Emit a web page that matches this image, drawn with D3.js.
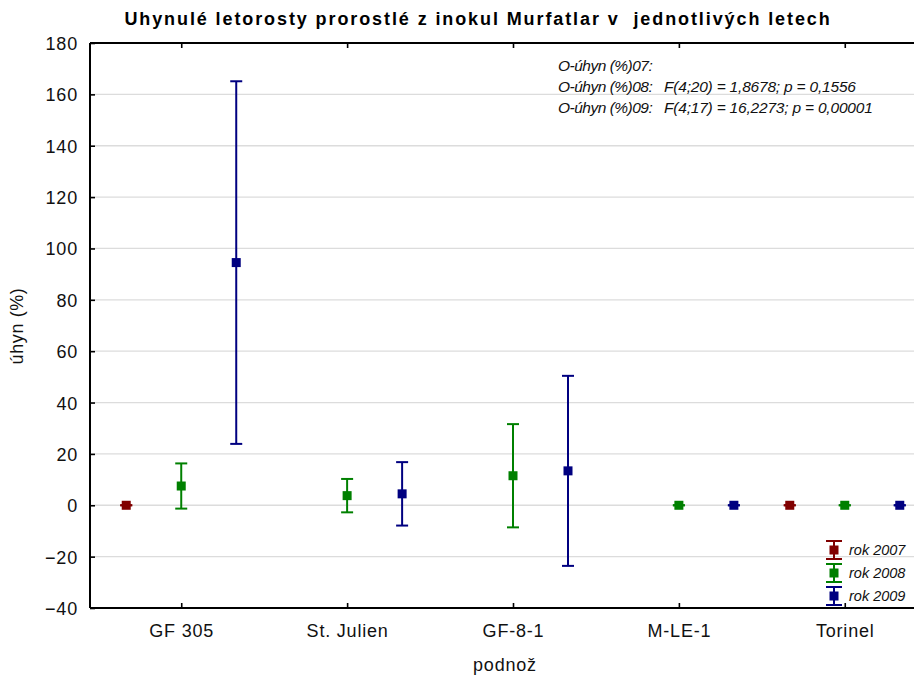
<!DOCTYPE html>
<html>
<head>
<meta charset="utf-8">
<script src="https://cdn.jsdelivr.net/npm/d3@7/dist/d3.min.js"></script>
<style>
  html, body { margin: 0; padding: 0; background: #fff; }
  svg { display: block; font-family: "Liberation Sans", Arial, sans-serif; }
</style>
</head>
<body>
<svg id="chart" width="914" height="682"></svg>
<script>
// Rootstocks on the x axis
const categories = ["GF 305", "St. Julien", "GF-8-1", "M-LE-1", "Torinel"];
const seriesNames = ["rok 2007", "rok 2008", "rok 2009"];
const seriesColors = ["#800000", "#008000", "#000080"];

// Means and half-widths of the confidence intervals (null = no data)
const mean2007 = [0, null, null, null, 0];
const err2007  = [0, null, null, null, 0];
const mean2008 = [7.5, 3.75, 11.5, 0, 0];
const err2008  = [8.8, 6.5, 20.1, 0, 0];
const mean2009 = [94.5, 4.45, 13.4, 0, 0];
const err2009  = [70.6, 12.35, 37.0, 0, 0];

const yTicks = [-40, -20, 0, 20, 40, 60, 80, 100, 120, 140, 160, 180];

const statLines = [
  ["O-úhyn (%)07:", ""],
  ["O-úhyn (%)08:", "F(4;20) = 1,8678; p = 0,1556"],
  ["O-úhyn (%)09:", "F(4;17) = 16,2273; p = 0,00001"]
];

const series = [
  { name: seriesNames[0], color: seriesColors[0], mean: mean2007, err: err2007 },
  { name: seriesNames[1], color: seriesColors[1], mean: mean2008, err: err2008 },
  { name: seriesNames[2], color: seriesColors[2], mean: mean2009, err: err2009 }
];

const svg = d3.select("#chart");
const plotLeft = 90, plotRight = 936, plotTop = 43, plotBottom = 608;

const x = d3.scalePoint().domain(categories).range([plotLeft, plotRight]).padding(0.55);
const xSub = d3.scalePoint().domain(seriesNames).range([-55, 55]);
const y = d3.scaleLinear().domain([-40, 180]).range([plotBottom, plotTop]);

// Horizontal grid
svg.append("g")
  .selectAll("line")
  .data(yTicks.filter(t => t !== -40 && t !== 180))
  .join("line")
  .attr("x1", plotLeft).attr("x2", plotRight)
  .attr("y1", d => y(d)).attr("y2", d => y(d))
  .attr("stroke", "#dcdcdc").attr("stroke-width", 1.3);

// Axes
const axisFont = g => g.selectAll("text")
  .attr("font-size", 18).attr("fill", "#111")
  .attr("font-family", "'Liberation Sans', Arial, sans-serif")
  .style("letter-spacing", "0.8px");

const yAxis = svg.append("g")
  .attr("transform", `translate(${plotLeft},0)`)
  .call(d3.axisRight(y).tickValues(yTicks).tickSize(5).tickFormat(d3.format("d")));
yAxis.selectAll("text").attr("x", -12).attr("text-anchor", "end").attr("dy", "0.36em");
yAxis.call(axisFont);

const xAxis = svg.append("g")
  .attr("transform", `translate(0,${plotBottom})`)
  .call(d3.axisTop(x).tickSize(5));
xAxis.selectAll("text").attr("y", 29).attr("dy", 0);
xAxis.call(axisFont);

const xTop = svg.append("g")
  .attr("transform", `translate(0,${plotTop})`)
  .call(d3.axisBottom(x).tickSize(5).tickFormat(""));

[yAxis, xAxis, xTop].forEach(g => {
  g.select(".domain").attr("stroke", "#000").attr("stroke-width", 2);
  g.selectAll(".tick line").attr("stroke", "#000").attr("stroke-width", 1.6);
});
// plain axis lines without end ticks
yAxis.select(".domain").attr("d", `M0,${plotBottom}V${plotTop}`);
xAxis.select(".domain").attr("d", `M${plotLeft},0H${plotRight}`);
xTop.select(".domain").attr("d", `M${plotLeft},0H${plotRight}`);

// Error bars and mean markers
const capHalf = 6, marker = 9;
series.forEach(s => {
  const pts = categories.map((c, i) => ({ c, m: s.mean[i], e: s.err[i] }))
    .filter(d => d.m !== null);
  const g = svg.append("g").attr("stroke", s.color).attr("fill", s.color);
  const cx = d => x(d.c) + xSub(s.name);
  g.selectAll(".whisker").data(pts).join("line").attr("class", "whisker")
    .attr("x1", cx).attr("x2", cx)
    .attr("y1", d => y(d.m - d.e)).attr("y2", d => y(d.m + d.e))
    .attr("stroke-width", 2);
  g.selectAll(".capLo").data(pts).join("line").attr("class", "capLo")
    .attr("x1", d => cx(d) - capHalf).attr("x2", d => cx(d) + capHalf)
    .attr("y1", d => y(d.m - d.e)).attr("y2", d => y(d.m - d.e))
    .attr("stroke-width", 2);
  g.selectAll(".capHi").data(pts).join("line").attr("class", "capHi")
    .attr("x1", d => cx(d) - capHalf).attr("x2", d => cx(d) + capHalf)
    .attr("y1", d => y(d.m + d.e)).attr("y2", d => y(d.m + d.e))
    .attr("stroke-width", 2);
  g.selectAll("rect").data(pts).join("rect")
    .attr("x", d => cx(d) - marker / 2).attr("y", d => y(d.m) - marker / 2)
    .attr("width", marker).attr("height", marker).attr("stroke", "none");
});

// Title
svg.append("text")
  .attr("x", 478).attr("y", 25).attr("text-anchor", "middle")
  .attr("font-size", 18).attr("font-weight", "bold")
  .style("letter-spacing", "1.9px").style("white-space", "pre")
  .text("Uhynulé letorosty prorostlé z inokul Murfatlar v  jednotlivých letech");

// Axis titles
svg.append("text")
  .attr("x", 505).attr("y", 671).attr("text-anchor", "middle")
  .attr("font-size", 18).attr("fill", "#111").style("letter-spacing", "0.8px")
  .text("podnož");
svg.append("text")
  .attr("transform", "translate(23,326) rotate(-90)").attr("text-anchor", "middle")
  .attr("font-size", 18).attr("fill", "#111").style("letter-spacing", "0.6px")
  .text("úhyn (%)");

// Test statistics
const stat = svg.append("g").attr("font-size", 15.5).attr("font-style", "italic").attr("fill", "#111");
statLines.forEach((l, i) => {
  stat.append("text").attr("x", 558).attr("y", 71 + i * 21)
    .style("letter-spacing", "-0.5px").text(l[0]);
  stat.append("text").attr("x", 664).attr("y", 71 + i * 21)
    .style("letter-spacing", "-0.2px").text(l[1]);
});

// Legend
const legend = svg.append("g");
series.forEach((s, i) => {
  const ly = 550 + i * 23, lx = 834;
  const g = legend.append("g").attr("stroke", s.color).attr("fill", s.color);
  g.append("line").attr("x1", lx).attr("x2", lx).attr("y1", ly - 9).attr("y2", ly + 9).attr("stroke-width", 2);
  g.append("line").attr("x1", lx - 8).attr("x2", lx + 8).attr("y1", ly - 9).attr("y2", ly - 9).attr("stroke-width", 2);
  g.append("line").attr("x1", lx - 8).attr("x2", lx + 8).attr("y1", ly + 9).attr("y2", ly + 9).attr("stroke-width", 2);
  g.append("rect").attr("x", lx - 4.5).attr("y", ly - 4.5).attr("width", 9).attr("height", 9).attr("stroke", "none");
  legend.append("text").attr("x", 849).attr("y", ly + 5)
    .attr("font-size", 14.5).attr("font-style", "italic").attr("fill", "#111").text(s.name);
});
</script>
</body>
</html>
